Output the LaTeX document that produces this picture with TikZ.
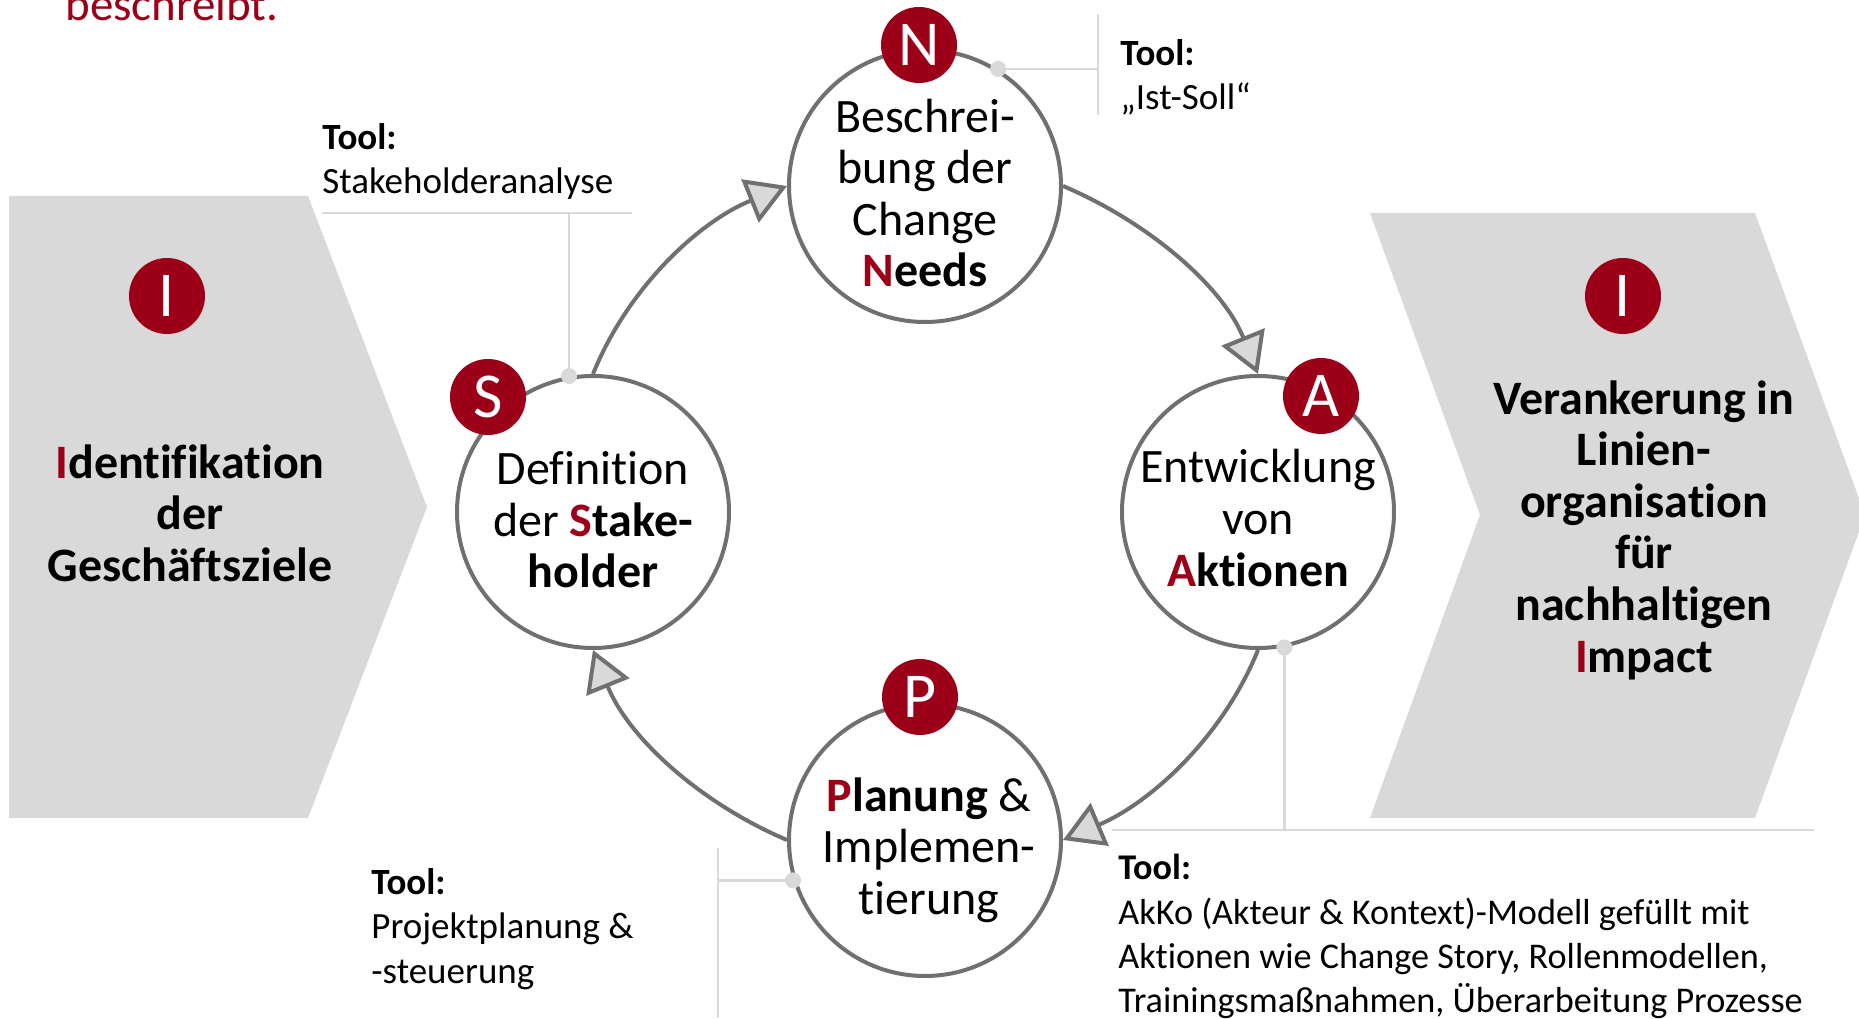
\documentclass[tikz,border=0pt]{standalone}
\usepackage{fontspec}
\setmainfont{Carlito}[Ligatures={TeX,NoCommon}]
\usetikzlibrary{arrows.meta,calc}
\definecolor{myred}{RGB}{155,0,24}
\definecolor{ringgray}{RGB}{112,112,112}
\definecolor{lightfill}{RGB}{217,217,217}
\definecolor{leadgray}{RGB}{217,217,217}
\begin{document}
\begin{tikzpicture}[x=0.5pt,y=0.5pt,
  ring/.style={circle, draw=ringgray, line width=2pt, fill=white, minimum size=136pt, inner sep=0pt},
  ringtext/.style={align=center, inner sep=0pt, font=\fontsize{24}{25.8}\selectfont},
  badge/.style={circle, fill=myred, minimum size=38pt, inner sep=0pt, text=white, font=\fontsize{32}{32}\selectfont},
  bigtext/.style={align=center, inner sep=0pt, font=\bfseries\fontsize{24}{25.8}\selectfont},
  flow/.style={draw=ringgray, line width=2pt, -{Triangle[length=20pt,width=23pt,fill=lightfill]}},
  lead/.style={draw=leadgray, line width=1.2pt},
  leaddot/.style={circle, fill=leadgray, minimum size=8pt, inner sep=0pt},
  tooltext/.style={align=left, anchor=north west, inner sep=0pt, font=\fontsize{18.5}{22.3}\selectfont},
]
\useasboundingbox (0,0) rectangle (1859,1018);
\fill[white] (0,0) rectangle (1859,1018);

% heading remnant
\node[anchor=base west, inner sep=0pt, text=myred, font=\fontsize{23.5}{28}\selectfont] (head) at (65,997) {beschreibt.};

% chevrons
\fill[lightfill] (9,822) -- (308,822) -- (427,511) -- (308,200) -- (9,200) -- cycle;
\fill[lightfill] (1370,805) -- (1755,805) -- (1865,503) -- (1755,200) -- (1370,200) -- (1480,503) -- cycle;

\node[bigtext] (lt) at (190,505) {{\color{myred}I}dentifikation\\der\\Geschäftsziele};
\node[bigtext] (rt) at (1644,488) {Verankerung in\\Linien-\\organisation\\für\\nachhaltigen\\{\color{myred}I}mpact};
\node[badge] (li) at (167,722) {I};
\node[badge] (ri) at (1623,722) {I};

% circles
\node[ring] (S) at (593,506) {};
\node[ring] (N) at (925,832) {};
\node[ring] (A) at (1258,506) {};
\node[ring] (P) at (925,178) {};

\node[ringtext] (Stxt) at ($(S)+(0,-8)$) {Definition\\der {\bfseries\color{myred}S}{\bfseries take-}\\{\bfseries holder}};
\node[ringtext] (Ntxt) at ($(N)+(0,-7)$) {Beschrei-\\bung der\\Change\\{\bfseries{\color{myred}N}eeds}};
\node[ringtext] (Atxt) at ($(A)+(0,-6)$) {Entwicklung\\von\\{\bfseries{\color{myred}A}ktionen}};
\node[ringtext] (Ptxt) at ($(P)+(4,-10)$) {{\bfseries{\color{myred}P}lanung} \&\\Implemen-\\tierung};

% cycle arcs
\draw[flow] (S.north) to[out=68,in=202,looseness=0.89] (N.west);
\draw[flow] (N.east) to[out=-23,in=112,looseness=0.89] (A.north);
\draw[flow] (A.south) to[out=-112,in=23,looseness=0.89] (P.east);
\draw[flow] (P.west) to[out=157,in=-68,looseness=0.89] (S.south);

% leader lines
\coordinate (dS) at (S.100);
\coordinate (tlL) at (322,805);
\coordinate (tlR) at (632,805);
\draw[lead] (tlL) -- (tlR);
\draw[lead] (dS) -- (dS |- tlL);

\coordinate (dN) at (N.58);
\coordinate (trT) at (1098,1004);
\coordinate (trB) at (1098,903);
\draw[lead] (trT) -- (trB);
\draw[lead] (dN) -- (dN -| trT);

\coordinate (dA) at (A.-79);
\coordinate (brL) at (1112,188);
\coordinate (brR) at (1814,188);
\draw[lead] (brL) -- (brR);
\draw[lead] (dA) -- (dA |- brL);

\coordinate (dP) at (P.197);
\coordinate (blT) at (718,170);
\coordinate (blB) at (718,0);
\draw[lead] (blT) -- (blB);
\draw[lead] (dP) -- (dP -| blT);

\node[leaddot] (ldS) at (dS) {};
\node[leaddot] (ldN) at (dN) {};
\node[leaddot] (ldA) at (dA) {};
\node[leaddot] (ldP) at (dP) {};

% badges
\node[badge] (bN) at ($(N)+(-6,141)$) {N};
\node[badge] (bS) at ($(S)+(-105,115)$) {S};
\node[badge] (bA) at ($(A)+(63,116)$) {A};
\node[badge] (bP) at ($(P)+(-5,143)$) {P};

% tool texts
\node[tooltext] (t1) at (322,895) {\textbf{Tool:}\\Stakeholderanalyse};
\node[tooltext] (t2) at (1120,979) {\textbf{Tool:}\\„Ist-Soll“};
\node[tooltext] (t3) at (371,150) {\textbf{Tool:}\\Projektplanung \&\\-steuerung};
\node[tooltext, font=\fontsize{18.1}{22.1}\selectfont] (t4) at (1118,164) {\textbf{Tool:}\\AkKo (Akteur \& Kontext)-Modell gefüllt mit\\Aktionen wie Change Story, Rollenmodellen,\\Trainingsmaßnahmen, Überarbeitung Prozesse};
\end{tikzpicture}
\end{document}
